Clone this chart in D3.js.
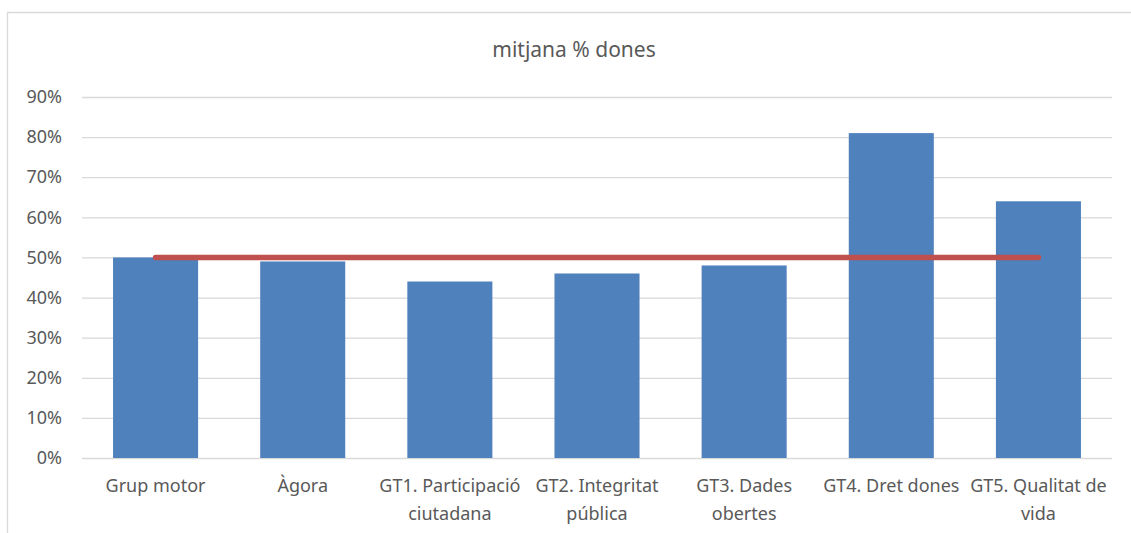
<!DOCTYPE html>
<html>
<head>
<meta charset="utf-8">
<script src="https://cdn.jsdelivr.net/npm/d3@7"></script>
<style>
	body { margin: 0; background: #fff; }
	svg { display: block; font-family: "Noto Sans", sans-serif; }
</style>
</head>
<body>
<svg id="chart" width="1131" height="533"></svg>
<script>
/* global d3 */

// data
let categories = ['Grup motor', 'Àgora', 'GT1. Participació ciutadana', 'GT2. Integritat pública',
		'GT3. Dades obertes', 'GT4. Dret dones', 'GT5. Qualitat de vida'],
	womenShare = [0.50, 0.49, 0.44, 0.46, 0.48, 0.81, 0.64],
	parity = [0.50, 0.50, 0.50, 0.50, 0.50, 0.50, 0.50],
	yTicks = [0, 0.1, 0.2, 0.3, 0.4, 0.5, 0.6, 0.7, 0.8, 0.9],
	title = 'mitjana % dones';

let svg = d3.select('#chart'),
	margin = {top: 97, right: 19, bottom: 75, left: 82},
	width = 1131 - margin.left - margin.right,
	height = 533 - margin.top - margin.bottom,
	textColor = '#595959',
	gridColor = '#d9d9d9';

// outer frame (only top and left edges are visible in the crop)
svg.append('path')
	.attr('d', 'M7.5,533V12.5H1131')
	.attr('fill', 'none')
	.attr('stroke', gridColor)
	.attr('stroke-width', 1.3);

svg.append('text')
	.attr('x', 574)
	.attr('y', 57)
	.attr('text-anchor', 'middle')
	.attr('fill', textColor)
	.style('font-size', '21px')
	.text(title);

let g = svg.append('g').attr('transform', 'translate(' + margin.left + ',' + margin.top + ')');

let x = d3.scaleBand().domain(categories).range([0, width]).padding(0),
	y = d3.scaleLinear().domain([0, 0.9]).range([height, 0]),
	barWidth = x.bandwidth() * 0.578;

// gridlines + y labels
let yAxis = g.append('g')
	.call(d3.axisLeft(y).tickValues(yTicks).tickFormat(d3.format('.0%')).tickSize(-width).tickPadding(20));

yAxis.select('.domain').remove();
yAxis.selectAll('.tick line').attr('stroke', gridColor).attr('stroke-width', 1.3);
yAxis.selectAll('.tick text')
	.attr('fill', textColor)
	.style('font-size', '18px')
	.style('font-family', '"Noto Sans", sans-serif');

// bars
g.selectAll('.bar')
	.data(womenShare)
	.enter().append('rect')
		.attr('class', 'bar')
		.attr('x', function(d, i) { return x(categories[i]) + (x.bandwidth() - barWidth) / 2; })
		.attr('y', function(d) { return y(d); })
		.attr('width', barWidth)
		.attr('height', function(d) { return height - y(d); })
		.attr('fill', '#4f81bd');

// parity line
let line = d3.line()
	.x(function(d, i) { return x(categories[i]) + x.bandwidth() / 2; })
	.y(function(d) { return y(d); });

g.append('path')
	.datum(parity)
	.attr('d', line)
	.attr('fill', 'none')
	.attr('stroke', '#c0504d')
	.attr('stroke-width', 5.5)
	.attr('stroke-linecap', 'round');

// category labels, wrapped like excel does
let xAxis = g.append('g')
	.attr('transform', 'translate(0,' + height + ')')
	.call(d3.axisBottom(x).tickSize(0).tickPadding(0));

xAxis.select('.domain').remove();

function wrap(text, maxWidth) {
	text.each(function() {
		let node = d3.select(this),
			words = node.text().split(' '),
			lines = [],
			current = [],
			tspan;

		node.text(null).attr('dy', null).attr('y', null);
		tspan = node.append('tspan');
		words.forEach(function(word) {
			current.push(word);
			tspan.text(current.join(' '));
			if (tspan.node().getComputedTextLength() > maxWidth && current.length > 1) {
				current.pop();
				lines.push(current.join(' '));
				current = [word];
			}
		});
		lines.push(current.join(' '));
		node.text(null);
		lines.forEach(function(l, i) {
			node.append('tspan').attr('x', 0).attr('y', 34 + i * 28).text(l);
		});
	});
}

xAxis.selectAll('.tick text')
	.attr('fill', textColor)
	.style('font-size', '18px')
	.style('font-family', '"Noto Sans", sans-serif')
	.call(wrap, 152);
</script>
</body>
</html>
